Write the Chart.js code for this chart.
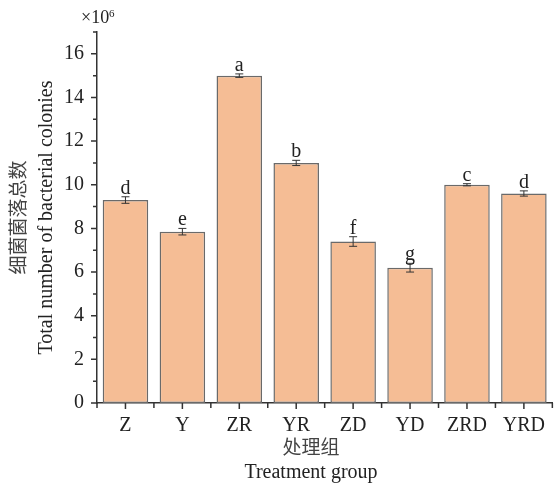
<!DOCTYPE html>
<html>
<head>
<meta charset="utf-8">
<script src="https://cdn.jsdelivr.net/npm/chart.js@4.4.1/dist/chart.umd.min.js"></script>
<style>
  body { margin: 0; background: #fff; }
  #wrap { width: 556px; height: 485px; }
</style>
</head>
<body>
<div id="wrap"><canvas id="myChart" width="556" height="485"></canvas></div>
<script>
// data
const groups = ['Z', 'Y', 'ZR', 'YR', 'ZD', 'YD', 'ZRD', 'YRD'];
const colonies = [9.3, 7.85, 15.0, 11.0, 7.4, 6.2, 10.0, 9.6];
const errors = [0.15, 0.15, 0.08, 0.12, 0.22, 0.2, 0.05, 0.12];
const letters = ['d', 'e', 'a', 'b', 'f', 'g', 'c', 'd'];
const yTicks = [0, 2, 4, 6, 8, 10, 12, 14, 16];

const serif = '"Liberation Serif", "Times New Roman", serif';
const cjk = '"Noto Sans CJK SC", sans-serif';
const ink = '#222';

// error bars, letters, tick marks and axis titles
const extras = {
  id: 'extras',
  afterDatasetsDraw(chart) {
    const ctx = chart.ctx;
    const y = chart.scales.y;
    const bars = chart.getDatasetMeta(0).data;
    ctx.save();
    ctx.strokeStyle = '#333';
    ctx.lineWidth = 1;
    bars.forEach(function (bar, i) {
      const top = y.getPixelForValue(colonies[i] + errors[i]);
      const bot = y.getPixelForValue(colonies[i] - errors[i]);
      ctx.beginPath();
      ctx.moveTo(bar.x, top);
      ctx.lineTo(bar.x, bot);
      ctx.moveTo(bar.x - 4, top);
      ctx.lineTo(bar.x + 4, top);
      ctx.moveTo(bar.x - 4, bot);
      ctx.lineTo(bar.x + 4, bot);
      ctx.stroke();
      ctx.fillStyle = ink;
      ctx.font = '20px ' + serif;
      ctx.textAlign = 'center';
      ctx.textBaseline = 'alphabetic';
      ctx.fillText(letters[i], bar.x, top - 3);
    });
    ctx.restore();
  },
  afterDraw(chart) {
    const ctx = chart.ctx;
    const y = chart.scales.y;
    const x = chart.scales.x;
    const area = chart.chartArea;
    ctx.save();
    ctx.strokeStyle = '#333';
    ctx.lineWidth = 1.5;
    ctx.beginPath();
    // y ticks, major and minor
    for (let v = 0; v <= 17; v++) {
      const py = y.getPixelForValue(v);
      const len = v % 2 === 0 ? 6 : 4;
      ctx.moveTo(area.left, py);
      ctx.lineTo(area.left - len, py);
    }
    // x ticks at centres and boundaries
    const step = (area.right - area.left) / groups.length;
    for (let i = 0; i <= groups.length; i++) {
      const px = area.left + i * step;
      ctx.moveTo(px, area.bottom);
      ctx.lineTo(px, area.bottom + 5);
    }
    groups.forEach(function (g, i) {
      const px = x.getPixelForValue(i);
      ctx.moveTo(px, area.bottom);
      ctx.lineTo(px, area.bottom + 6);
    });
    ctx.stroke();

    // ×10^6
    ctx.fillStyle = ink;
    ctx.textBaseline = 'alphabetic';
    ctx.textAlign = 'left';
    ctx.font = '18px ' + serif;
    ctx.fillText('×10', 81, 23);
    ctx.font = '11px ' + serif;
    ctx.fillText('6', 109, 17);

    // y axis titles
    const cy = (area.top + area.bottom) / 2;
    ctx.save();
    ctx.translate(25, cy);
    ctx.rotate(-Math.PI / 2);
    ctx.textAlign = 'center';
    ctx.fillStyle = '#444';
    ctx.font = '19px ' + cjk;
    ctx.fillText('细菌菌落总数', 0, 0);
    ctx.fillStyle = ink;
    ctx.font = '20px ' + serif;
    ctx.fillText('Total number of bacterial colonies', 0, 27);
    ctx.restore();

    // x axis titles
    ctx.textAlign = 'center';
    ctx.fillStyle = '#444';
    ctx.font = '19px ' + cjk;
    ctx.fillText('处理组', 311, 454);
    ctx.fillStyle = ink;
    ctx.font = '20px ' + serif;
    ctx.fillText('Treatment group', 311, 478);
    ctx.restore();
  }
};

const ctx = document.getElementById('myChart').getContext('2d');

// eslint-disable-next-line
const chart = new Chart(ctx, {
  type: 'bar',
  data: {
    labels: groups,
    datasets: [
      {
        label: 'Total number of bacterial colonies',
        data: colonies,
        backgroundColor: '#F5BD95',
        borderColor: '#6a6a6a',
        borderWidth: 1.5,
        borderSkipped: false,
        barPercentage: 0.8,
        categoryPercentage: 1.0,
      },
    ],
  },
  options: {
    responsive: false,
    animation: false,
    layout: { padding: { top: 32, right: 0, left: 0, bottom: 0 } },
    plugins: {
      legend: { display: false },
      tooltip: { enabled: false },
    },
    scales: {
      x: {
        grid: { display: false, drawTicks: false },
        border: { display: true, color: '#333', width: 1.5 },
        ticks: { color: ink, font: { family: serif, size: 20 }, padding: 11, maxRotation: 0 },
        afterFit: function (s) { s.height = 82; },
      },
      y: {
        min: 0,
        max: 17,
        grid: { display: false, drawTicks: false },
        border: { display: true, color: '#333', width: 1.5 },
        ticks: { color: ink, font: { family: serif, size: 20 }, padding: 13 },
        afterBuildTicks: function (s) { s.ticks = yTicks.map(function (v) { return { value: v }; }); },
        afterFit: function (s) { s.width = 97; },
      },
    },
  },
  plugins: [extras],
});
</script>
</body>
</html>
